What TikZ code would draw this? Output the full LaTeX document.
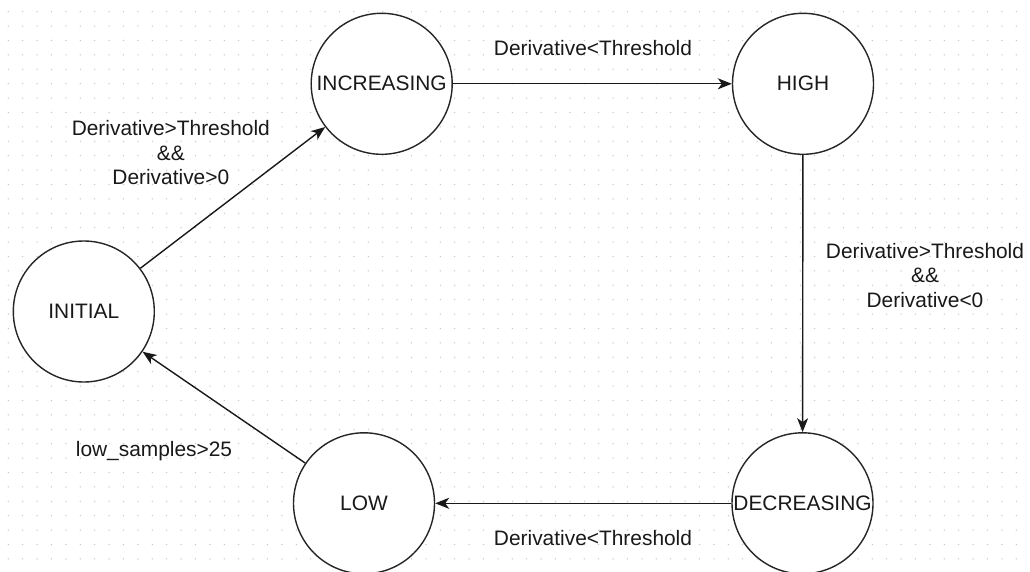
\documentclass[tikz,border=0pt]{standalone}
\usepackage{fontspec}
\setmainfont{Liberation Sans}
\usetikzlibrary{arrows.meta}
\begin{document}
\begin{tikzpicture}[x=1pt,y=-1pt,
  state/.style={circle,draw=black!85,line width=1.4pt,fill=white,minimum size=141pt,inner sep=0pt,
    font=\fontsize{20.9}{24.4}\selectfont,text=black!90},
  lbl/.style={align=center,inner sep=0pt,font=\fontsize{20.9}{24.4}\selectfont,text=black!90},
  edge/.style={draw=black!90,line width=1.4pt,-{Stealth[length=14pt,width=11pt,inset=4pt]}}]
\useasboundingbox (0,0) rectangle (1030,572);
\fill[white] (0,0) rectangle (1030,572);
\foreach \i in {0,...,71}{\foreach \j in {0,...,39}{\fill[black!22] (8.3+14.4*\i,11.7+14.4*\j) circle (0.75);}}
\node[state] (init) at (83.8,311.5) {INITIAL};
\node[state] (inc) at (381.7,83.8) {INCREASING};
\node[state] (high) at (803,83.8) {HIGH};
\node[state] (dec) at (802.5,503.3) {DECREASING};
\node[state] (low) at (364,503.3) {LOW};
\draw[edge] (init) -- (inc);
\draw[edge] (inc) -- (high);
\draw[edge] (high) -- (dec);
\draw[edge] (dec) -- (low);
\draw[edge] (low) -- (init);
\node[lbl] (l1) at (170.8,152.6) {Derivative>Threshold\\\&\&\\Derivative>0};
\node[lbl] (l2) at (593,47.7) {Derivative<Threshold};
\node[lbl] (l3) at (925,275.5) {Derivative>Threshold\\\&\&\\Derivative<0};
\node[lbl] (l4) at (593,538) {Derivative<Threshold};
\node[lbl] (l5) at (154,451.5) {low\_samples>25};
\end{tikzpicture}
\end{document}
